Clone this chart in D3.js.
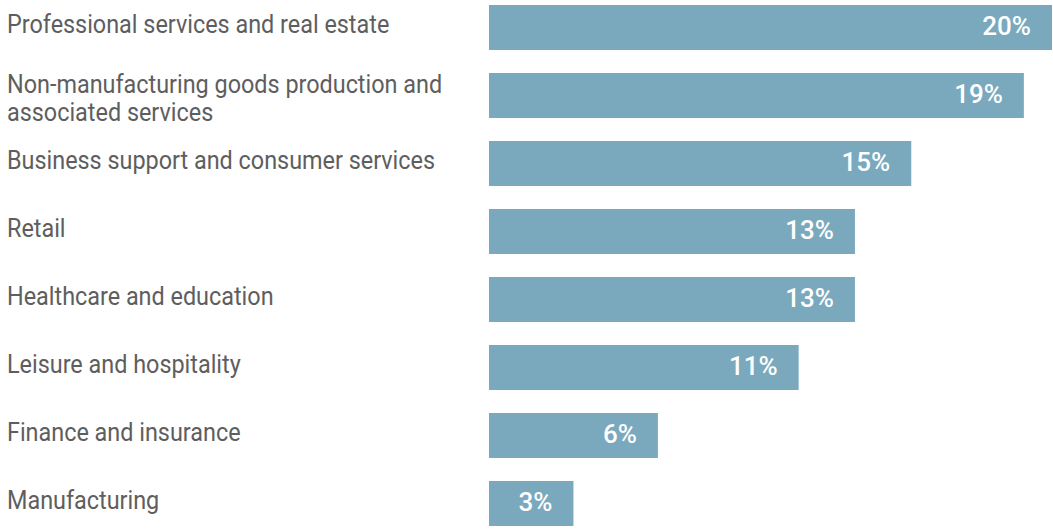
<!DOCTYPE html>
<html>
<head>
<meta charset="utf-8">
<script src="https://cdn.jsdelivr.net/npm/d3@7"></script>
<style>
  html, body { margin: 0; padding: 0; background: #fff; }
  svg { display: block; }
</style>
</head>
<body>
<script>
// data
let categories = [
    "Professional services and real estate",
    "Non-manufacturing goods production and associated services",
    "Business support and consumer services",
    "Retail",
    "Healthcare and education",
    "Leisure and hospitality",
    "Finance and insurance",
    "Manufacturing"
];
let values = [20, 19, 15, 13, 13, 11, 6, 3];

let width = 1053, height = 529;
let barColor = "#7aa9be";
let labelColor = "#5e5e5e";

let graph = d3.select("body").append("svg")
    .attr("width", width)
    .attr("height", height);

let x = d3.scaleLinear([0, 20], [489, 1052]);
let y = d3.scaleBand(categories, [5, 526]).paddingInner(0.338).paddingOuter(0);

let rows = categories.map((c, i) => ({name: c, value: values[i]}));

// bars
graph.append("g")
    .selectAll("rect")
    .data(rows)
    .join("rect")
      .attr("x", x(0))
      .attr("y", d => y(d.name))
      .attr("width", d => x(d.value) - x(0))
      .attr("height", y.bandwidth())
      .attr("fill", barColor);

// value labels
graph.append("g")
    .attr("font-family", "Roboto, sans-serif")
    .attr("font-size", 26)
    .attr("font-weight", 500)
    .attr("fill", "#fff")
    .attr("text-anchor", "end")
    .selectAll("text")
    .data(rows)
    .join("text")
      .attr("x", d => x(d.value) - 21)
      .attr("y", d => y(d.name) + y.bandwidth() / 2 + 7.5)
      .text(d => d.value + "%");

// category labels, Roboto squeezed to look condensed
let squeeze = 0.9;
let maxWidth = 450;
let labels = graph.append("g")
    .attr("font-family", "Roboto, sans-serif")
    .attr("font-size", 26)
    .attr("fill", labelColor);

let measure = labels.append("text");
function textWidth(s) {
    measure.text(s);
    return measure.node().getComputedTextLength() * squeeze;
}

function wrap(s) {
    let words = s.split(" "), lines = [], line = "";
    for (let w of words) {
        let test = line ? line + " " + w : w;
        if (line && textWidth(test) > maxWidth) {
            lines.push(line);
            line = w;
        } else {
            line = test;
        }
    }
    lines.push(line);
    return lines;
}

rows.forEach(d => {
    let lines = wrap(d.name);
    let base = y(d.name) + y.bandwidth() / 2 + 5.5 - (lines.length - 1) * 8;
    let t = labels.append("text")
        .attr("transform", `translate(7,${base}) scale(${squeeze},1)`);
    lines.forEach((l, i) => {
        t.append("tspan").attr("x", 0).attr("y", i * 28).text(l);
    });
});
measure.remove();
</script>
</body>
</html>
